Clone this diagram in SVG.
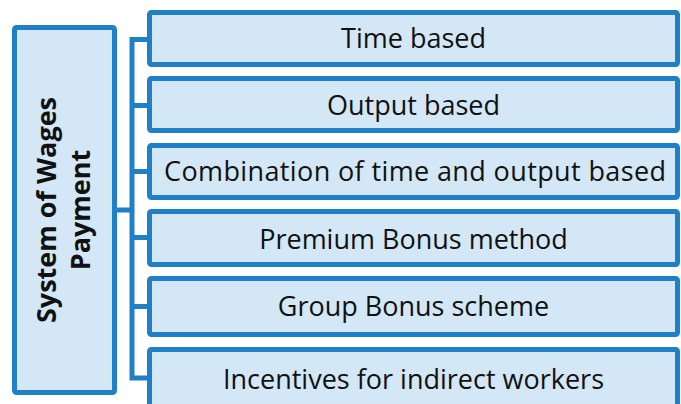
<svg xmlns="http://www.w3.org/2000/svg" width="681" height="404" viewBox="0 0 681 404">
<style>
.box{fill:#D3E7F6;stroke:#1F80C8;stroke-width:5}
.lbl{font-family:"Open Sans","Noto Sans",sans-serif;font-size:27px;fill:#111;text-anchor:middle}
.title{font-family:"Open Sans","Noto Sans",sans-serif;font-size:27px;font-weight:bold;fill:#111;text-anchor:middle}
.conn{fill:none;stroke:#1F80C8;stroke-width:5;stroke-linejoin:miter}
</style>
<rect width="681" height="404" fill="#fff"/>
<g id="connectors">
<path class="conn" d="M149.5,39.5 H132 V378 H149.5"/>
<path class="conn" d="M132,105.5 H149.5 M132,171.5 H149.5 M132,237.5 H149.5 M132,306.5 H149.5 M114,210 H132"/>
</g>
<g id="root">
<rect class="box" x="14.5" y="27.5" width="100" height="365" rx="2"/>
<text class="title" transform="translate(64,210) rotate(-90)"><tspan x="0" y="-8">System of Wages</tspan><tspan x="0" y="26">Payment</tspan></text>
</g>
<g id="n1"><rect class="box" x="149.5" y="12.5" width="528" height="52" rx="2"/><text class="lbl" x="413.5" y="48">Time based</text></g>
<g id="n2"><rect class="box" x="149.5" y="78.5" width="528" height="52" rx="2"/><text class="lbl" x="413.5" y="114.5">Output based</text></g>
<g id="n3"><rect class="box" x="149.5" y="145.5" width="528" height="52" rx="2"/><text class="lbl" x="415" y="181" textLength="502">Combination of time and output based</text></g>
<g id="n4"><rect class="box" x="149.5" y="211.5" width="528" height="53" rx="2"/><text class="lbl" x="413.5" y="249">Premium Bonus method</text></g>
<g id="n5"><rect class="box" x="149.5" y="278.5" width="528" height="56" rx="2"/><text class="lbl" x="413.5" y="316">Group Bonus scheme</text></g>
<g id="n6"><rect class="box" x="149.5" y="349.5" width="528" height="70" rx="2"/><text class="lbl" x="413.5" y="389">Incentives for indirect workers</text></g>
</svg>
